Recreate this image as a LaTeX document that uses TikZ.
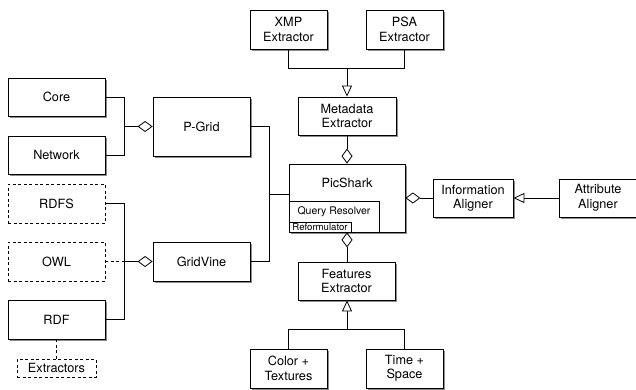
\documentclass[tikz,border=0pt]{standalone}
\usepackage{fontspec}
\setmainfont{TeX Gyre Heros}
\usetikzlibrary{arrows.meta,shadows}
\begin{document}
\begin{tikzpicture}[x=1pt,y=-1pt,
  base/.style={draw=black,line width=0.8pt,fill=white,inner sep=0pt,align=center,
    font=\fontsize{12.7}{14.5}\selectfont},
  box/.style={base,general shadow={shadow xshift=2.2pt,shadow yshift=-2.2pt,fill=black!45,draw=none}},
  dbox/.style={base,dashed,dash pattern=on 3pt off 2.5pt},
  wire/.style={line width=0.8pt},
  agg/.style={wire,-{Diamond[open,fill=white,length=15pt,width=11pt,line width=0.8pt]}},
  gen/.style={wire,-{Triangle[open,fill=white,length=11pt,width=10pt,line width=0.8pt]}},
  txt/.style={inner sep=0pt,font=\fontsize{12.7}{14.5}\selectfont}
]
\useasboundingbox (0,0) rectangle (636,390);

% left column
\node[box,minimum width=97pt,minimum height=38pt] (core) at (56.5,97) {Core};
\node[box,minimum width=97pt,minimum height=38pt] (network) at (56.5,155) {Network};
\node[dbox,minimum width=97pt,minimum height=39pt] (rdfs) at (56.5,203.5) {RDFS};
\node[dbox,minimum width=97pt,minimum height=39pt] (owl) at (56.5,261.5) {OWL};
\node[box,minimum width=97pt,minimum height=39pt] (rdf) at (56.5,319.5) {RDF};
\node[dbox,minimum width=79pt,minimum height=18pt] (extr) at (56.5,368) {Extractors};

% middle-left
\node[box,minimum width=97pt,minimum height=59pt] (pgrid) at (201.5,126.5) {P-Grid};
\node[box,minimum width=97pt,minimum height=39pt] (gridvine) at (201.5,261.5) {GridVine};

% top
\node[box,minimum width=77pt,minimum height=39pt] (xmp) at (288.5,29.5) {XMP\\Extractor};
\node[box,minimum width=77pt,minimum height=39pt] (psa) at (404.5,29.5) {PSA\\Extractor};
\node[box,minimum width=98pt,minimum height=38pt] (meta) at (347,116) {Metadata\\Extractor};

% PicShark
\node[box,minimum width=116pt,minimum height=68pt] (picshark) at (347,198) {};
\node[txt] (pstext) at (347,183) {PicShark};
\node[base,minimum width=90pt,minimum height=31pt] (qr) at (334,216.5) {};
\node[txt,font=\fontsize{10.5}{12}\selectfont] (qrtext) at (334,212) {Query Resolver};
\node[base,minimum width=62pt,minimum height=10pt,font=\fontsize{9.6}{10}\selectfont] (reform) at (320,227) {Reformulator};

% right
\node[box,minimum width=80pt,minimum height=38pt] (info) at (473,198) {Information\\Aligner};
\node[box,minimum width=78pt,minimum height=38pt] (attr) at (598,198) {Attribute\\Aligner};

% bottom
\node[box,minimum width=97pt,minimum height=38pt] (feat) at (346.5,281) {Features\\Extractor};
\node[box,minimum width=77pt,minimum height=39pt] (color) at (288.5,368.5) {Color +\\Textures};
\node[box,minimum width=77pt,minimum height=39pt] (time) at (404.5,368.5) {Time +\\Space};

% junctions
\coordinate (jP) at (124,126.5);
\coordinate (jG) at (124,261.5);
\coordinate (jS) at (269,194);
\coordinate (jM) at (347,68);
\coordinate (jF) at (347,329);

% connectors
\draw[wire] (core.east) -| (jP);
\draw[wire] (network.east) -| (jP);
\draw[agg] (jP) -- (pgrid.west);

\draw[wire] (rdfs.east) -| (jG);
\draw[wire] (rdf.east) -| (jG);
\draw[wire,dashed,dash pattern=on 3pt off 2.5pt] (owl.east) -- (jG);
\draw[agg] (jG) -- (gridvine.west);
\draw[wire,dashed,dash pattern=on 3pt off 2.5pt] (rdf.south) -- (extr.north);

\draw[wire] (pgrid.east) -| (jS);
\draw[wire] (gridvine.east) -| (jS);
\draw[wire] (jS) -- (jS -| picshark.west);

\draw[wire] (xmp.south) |- (jM);
\draw[wire] (psa.south) |- (jM);
\draw[gen] (jM) -- (meta.north);

\draw[agg] (meta.south) -- (picshark.north);
\draw[agg] (info.west) -- (picshark.east);
\draw[gen] (attr.west) -- (info.east);

\draw[agg] (feat.north -| jF) -- (jF |- picshark.south);
\draw[wire] (color.north) |- (jF);
\draw[wire] (time.north) |- (jF);
\draw[gen] (jF) -- (jF |- feat.south);
\end{tikzpicture}
\end{document}
